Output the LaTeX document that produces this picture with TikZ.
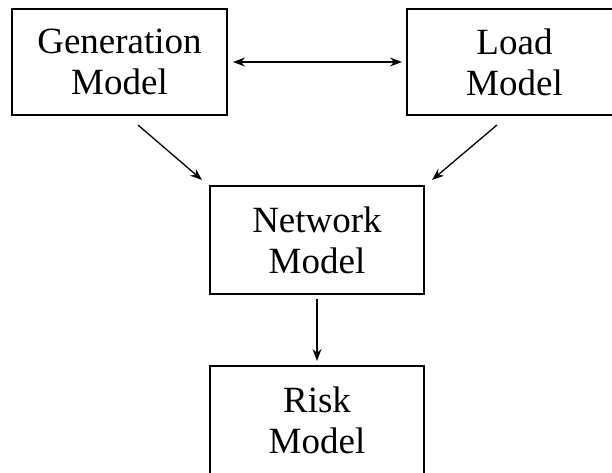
\documentclass[tikz,border=0pt]{standalone}
\usepackage{fontspec}
\setmainfont{Liberation Serif}
\usetikzlibrary{arrows.meta,calc}
\begin{document}
\begin{tikzpicture}[x=1pt,y=-1pt,
  box/.style={draw=black, line width=2pt, minimum width=215pt, minimum height=106pt,
    inner sep=0pt, align=center, font=\fontsize{37}{41}\selectfont},
  conn/.style={line width=1.3pt, -{Stealth[length=12pt,width=9pt,inset=4pt]}}]
\useasboundingbox (0,0) rectangle (612,472);
\clip (0,0) rectangle (612,472);
\node[box] (gen) at (119.5,62) {Generation\\Model};
\node[box] (load) at (514.5,62) {Load\\Model};
\node[box, minimum width=214pt, minimum height=108pt] (net) at (317,240) {Network\\Model};
\node[box, minimum width=214pt, minimum height=108pt] (risk) at (317,420) {Risk\\Model};
\draw[line width=1.3pt, {Stealth[length=12pt,width=9pt,inset=4pt]}-{Stealth[length=12pt,width=9pt,inset=4pt]}, shorten <=5pt, shorten >=4pt] (gen.east) -- (load.west);
\draw[conn] ($(gen.south)+(18.5,9)$) -- ($(net.north west)+(-7,-5)$);
\draw[conn] ($(load.south)+(-17.5,9)$) -- ($(net.north east)+(7,-5)$);
\draw[conn, shorten <=4pt, shorten >=4pt] (net.south) -- (risk.north);
\end{tikzpicture}
\end{document}
